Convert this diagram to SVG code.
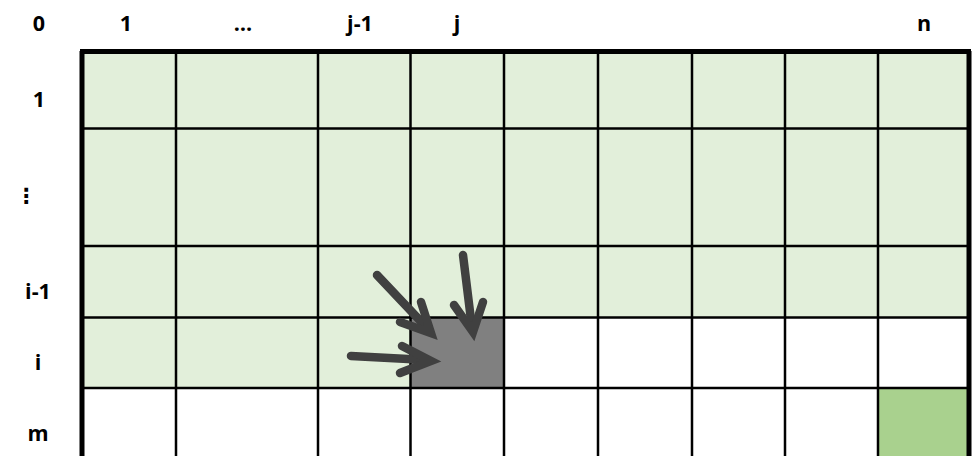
<svg xmlns="http://www.w3.org/2000/svg" width="977" height="456" viewBox="0 0 977 456">
<style>
.lbl{font-family:"Open Sans","Liberation Sans",sans-serif;font-weight:700;font-size:21.5px;fill:#000;text-anchor:middle}
.lg{fill:#E2EFDA}
.grid line{stroke:#000;stroke-width:2.5}
.arr{fill:none;stroke:#404040;stroke-width:8.5;stroke-linecap:round;stroke-linejoin:miter}
</style>
<rect width="977" height="456" fill="#fff"/>
<g id="cells">
<rect class="lg" x="82" y="51" width="887" height="266.5"/>
<rect class="lg" x="82" y="317.5" width="328" height="70.5"/>
<rect id="cell-ij" x="410" y="317.5" width="94" height="70.5" fill="#808080"/>
<rect id="cell-mn" x="878" y="388" width="91" height="68" fill="#A9D18E"/>
</g>
<g class="grid" id="grid">
<line x1="176" y1="51" x2="176" y2="456"/>
<line x1="318" y1="51" x2="318" y2="456"/>
<line x1="410.5" y1="51" x2="410.5" y2="456"/>
<line x1="504" y1="51" x2="504" y2="456"/>
<line x1="598" y1="51" x2="598" y2="456"/>
<line x1="692" y1="51" x2="692" y2="456"/>
<line x1="785" y1="51" x2="785" y2="456"/>
<line x1="878" y1="51" x2="878" y2="456"/>
<line x1="82" y1="128.5" x2="969" y2="128.5"/>
<line x1="82" y1="246" x2="969" y2="246"/>
<line x1="82" y1="317.5" x2="969" y2="317.5"/>
<line x1="82" y1="388" x2="969" y2="388"/>
<line x1="82" y1="51" x2="82" y2="456" style="stroke-width:5"/>
<line x1="969" y1="51" x2="969" y2="456" style="stroke-width:5"/>
<line x1="80" y1="51.5" x2="971" y2="51.5" style="stroke-width:5"/>
</g>
<g id="labels">
<text class="lbl" x="39" y="31">0</text>
<text class="lbl" x="126" y="31">1</text>
<text class="lbl" x="243" y="31">…</text>
<text class="lbl" x="360" y="31">j-1</text>
<text class="lbl" x="457" y="31">j</text>
<text class="lbl" x="924" y="31">n</text>
<text class="lbl" x="39" y="107">1</text>
<text class="lbl" x="38" y="299">i-1</text>
<text class="lbl" x="38" y="370">i</text>
<text class="lbl" x="38" y="441">m</text>
<text x="26" y="203" style="font-family:'DejaVu Sans',sans-serif;font-weight:700;font-size:21px;text-anchor:middle">⋮</text>
</g>
<g id="connectors">
<line class="arr" x1="377" y1="275" x2="428" y2="329"/>
<polyline class="arr" points="421,302 431,333 400,322"/>
<line class="arr" x1="463" y1="255" x2="472" y2="328"/>
<polyline class="arr" points="454,305 473,332 483,302"/>
<line class="arr" x1="351" y1="356" x2="427" y2="360"/>
<polyline class="arr" points="402,346 431,361 400,373"/>
</g>
</svg>
